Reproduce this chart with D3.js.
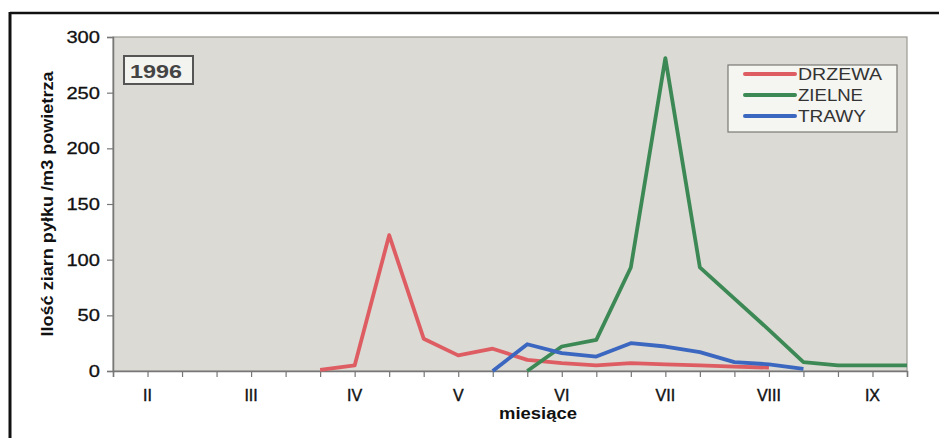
<!DOCTYPE html>
<html>
<head>
<meta charset="utf-8">
<script src="https://cdn.jsdelivr.net/npm/d3@7"></script>
<style>
  body { margin: 0; background: #fff; }
  svg { display: block; font-family: "Liberation Sans", Arial, sans-serif; }
</style>
</head>
<body>
<svg id="chart" width="939" height="438"></svg>
<script>
// dekads (10-day periods) from February to September
const dekads = ["II-1","II-2","II-3","III-1","III-2","III-3","IV-1","IV-2","IV-3",
  "V-1","V-2","V-3","VI-1","VI-2","VI-3","VII-1","VII-2","VII-3",
  "VIII-1","VIII-2","VIII-3","IX-1","IX-2","IX-3"]
const monthLabels = ["II","III","IV","V","VI","VII","VIII","IX"]

const drzewa = [null,null,null,null,null,null,1,5,122,29,14,20,10,7,5,7,6,5,4,3,null,null,null,null]
const zielne = [null,null,null,null,null,null,null,null,null,null,null,null,0,22,28,93,281,93,65,37,8,5,5,5]
const trawy  = [null,null,null,null,null,null,null,null,null,null,null,0,24,16,13,25,22,17,8,6,2,null,null,null]

const series = [
  { name: "DRZEWA", values: drzewa, color: "#de5d62", w: 84 },
  { name: "ZIELNE", values: zielne, color: "#3d8955", w: 65 },
  { name: "TRAWY", values: trawy, color: "#3b67c0", w: 68 }
]
const yTicks = [0, 50, 100, 150, 200, 250, 300]

const margin = { top: 37, right: 32, bottom: 67, left: 113 }
const width = 939
const height = 438

const svg = d3.select("#chart")

// outer frame of the scanned figure
svg.append("line")
  .attr("x1", 10).attr("x2", 939).attr("y1", 13).attr("y2", 13)
  .attr("stroke", "#111").attr("stroke-width", 2.5)
svg.append("line")
  .attr("x1", 10).attr("x2", 10).attr("y1", 12).attr("y2", 438)
  .attr("stroke", "#111").attr("stroke-width", 3)

const x = d3.scalePoint()
  .domain(dekads)
  .range([margin.left, width - margin.right])

const y = d3.scaleLinear()
  .domain([0, 300])
  .range([height - margin.bottom, margin.top])

// plot area
svg.append("rect")
  .attr("x", margin.left).attr("y", margin.top)
  .attr("width", width - margin.right - margin.left)
  .attr("height", height - margin.bottom - margin.top)
  .attr("fill", "#dbdad4")
  .attr("stroke", "#9a9a94")
  .attr("stroke-width", 1.2)

// y axis (labels drawn separately, the scan has wide digits)
const yAxis = svg.append("g")
  .attr("transform", `translate(${margin.left},0)`)
  .call(d3.axisLeft(y).tickValues(yTicks).tickSize(6).tickFormat(""))
yAxis.select(".domain").attr("stroke", "#777").attr("stroke-width", 1.5)
yAxis.selectAll(".tick line").attr("stroke", "#777").attr("stroke-width", 1.2)

svg.append("g")
  .selectAll("text")
  .data(yTicks)
  .join("text")
  .attr("transform", d => `translate(100,${y(d)}) scale(1.22,1)`)
  .attr("text-anchor", "end")
  .attr("dy", "0.36em")
  .attr("font-size", 16.5)
  .attr("fill", "#111")
  .attr("stroke", "#111").attr("stroke-width", 0.3)
  .text(d => d)

// x axis: a tick for every dekad, month label at the middle dekad
const xAxis = svg.append("g")
  .attr("transform", `translate(0,${y(0)})`)
  .call(d3.axisBottom(x).tickSize(6).tickFormat(""))
xAxis.select(".domain").attr("stroke", "#777").attr("stroke-width", 1.5)
xAxis.selectAll(".tick line").attr("stroke", "#777").attr("stroke-width", 1.2)

svg.append("g")
  .selectAll("text")
  .data(monthLabels)
  .join("text")
  .attr("x", d => x(d + "-2"))
  .attr("y", y(0) + 30)
  .attr("text-anchor", "middle")
  .attr("font-size", 16)
  .attr("fill", "#111")
  .attr("stroke", "#111").attr("stroke-width", 0.4)
  .text(d => d)

// axis titles
svg.append("text")
  .attr("transform", `translate(47,204) rotate(-90)`)
  .attr("text-anchor", "middle")
  .attr("dy", "0.35em")
  .attr("font-size", 16.5)
  .attr("font-weight", "bold")
  .attr("fill", "#111")
  .attr("textLength", 265)
  .attr("lengthAdjust", "spacingAndGlyphs")
  .text("Ilość ziarn pyłku /m3 powietrza")

svg.append("text")
  .attr("x", 538).attr("y", 419)
  .attr("text-anchor", "middle")
  .attr("font-size", 17)
  .attr("font-weight", "bold")
  .attr("fill", "#111")
  .attr("textLength", 78)
  .attr("lengthAdjust", "spacingAndGlyphs")
  .text("miesiące")

// lines
const line = d3.line()
  .defined(d => d.v != null)
  .x(d => x(d.k))
  .y(d => y(d.v))

svg.append("g")
  .selectAll("path")
  .data(series)
  .join("path")
  .attr("fill", "none")
  .attr("stroke", d => d.color)
  .attr("stroke-width", 3.8)
  .attr("stroke-linejoin", "round")
  .attr("d", d => line(d.values.map((v, i) => ({ k: dekads[i], v }))))

// year box
svg.append("rect")
  .attr("x", 124).attr("y", 56).attr("width", 69).attr("height", 28)
  .attr("fill", "#f3f3ef").attr("stroke", "#555").attr("stroke-width", 2)
svg.append("text")
  .attr("x", 156).attr("y", 78)
  .attr("text-anchor", "middle")
  .attr("font-size", 19).attr("font-weight", "bold")
  .attr("fill", "#444")
  .attr("textLength", 52)
  .attr("lengthAdjust", "spacingAndGlyphs")
  .text("1996")

// legend
const legend = svg.append("g").attr("transform", "translate(728,65)")
legend.append("rect")
  .attr("width", 169).attr("height", 67)
  .attr("fill", "#f5f5f1").attr("stroke", "#7a7a76").attr("stroke-width", 1.2)
const item = legend.selectAll("g")
  .data(series)
  .join("g")
  .attr("transform", (d, i) => `translate(0,${9 + i * 21})`)
item.append("line")
  .attr("x1", 17).attr("x2", 67)
  .attr("stroke", d => d.color).attr("stroke-width", 4).attr("stroke-linecap", "round")
item.append("text")
  .attr("x", 70).attr("dy", "0.36em")
  .attr("font-size", 17).attr("fill", "#333")
  .attr("textLength", d => d.w)
  .attr("lengthAdjust", "spacingAndGlyphs")
  .text(d => d.name)
</script>
</body>
</html>
